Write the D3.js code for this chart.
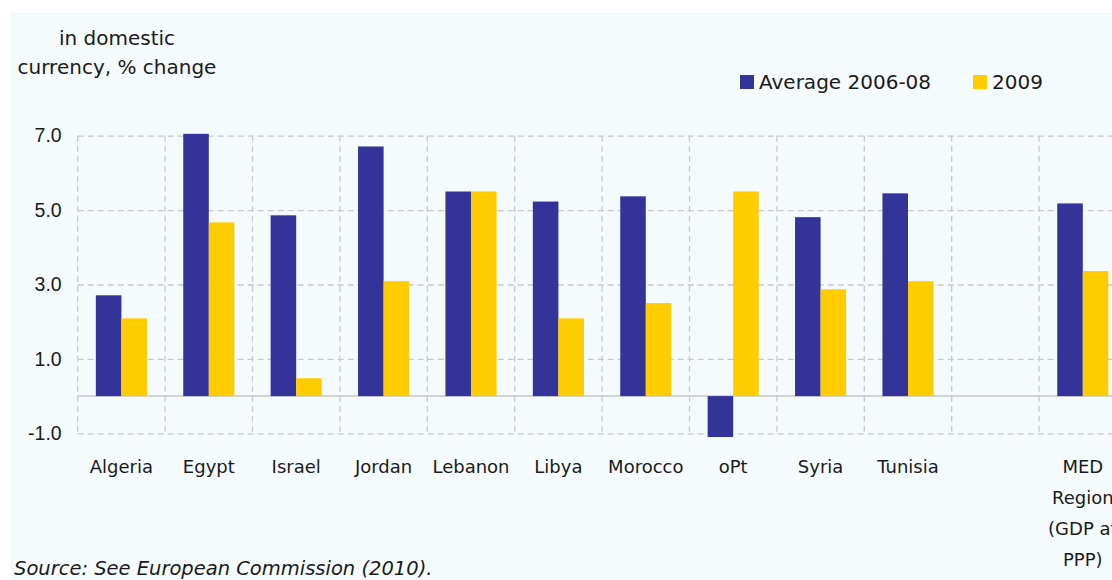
<!DOCTYPE html>
<html>
<head>
<meta charset="utf-8">
<script src="https://cdn.jsdelivr.net/npm/d3@7"></script>
<style>
  body { margin: 0; background: #fff; }
  svg { display: block; font-family: "Century Gothic", "URW Gothic", "DejaVu Sans", sans-serif; }
  .grid line { stroke: #c9c9c9; stroke-dasharray: 6,4; stroke-width: 1.3; }
  .grid path { display: none; }
  .tick text { fill: #1a1a1a; }
</style>
</head>
<body>
<svg width="1112" height="580"></svg>
<script>
// categories and series values
var categories = ['Algeria', 'Egypt', 'Israel', 'Jordan', 'Lebanon', 'Libya', 'Morocco', 'oPt', 'Syria', 'Tunisia', '', 'MED Region (GDP at PPP)'];
var categoryLines = [['Algeria'], ['Egypt'], ['Israel'], ['Jordan'], ['Lebanon'], ['Libya'], ['Morocco'], ['oPt'], ['Syria'], ['Tunisia'], [], ['MED', 'Region', '(GDP at', 'PPP)']];
var avg0608 = [2.71, 7.05, 4.86, 6.71, 5.5, 5.23, 5.37, -1.1, 4.81, 5.45, null, 5.18];
var y2009 = [2.09, 4.67, 0.48, 3.09, 5.5, 2.09, 2.5, 5.5, 2.87, 3.09, null, 3.36];
var seriesNames = ['Average 2006-08', '2009'];
var seriesColors = ['#333399', '#ffcc00'];
var yTicks = [-1, 1, 3, 5, 7];

var svg = d3.select('svg');

// panel background
svg.append('rect')
  .attr('x', 10).attr('y', 12)
  .attr('width', 1102).attr('height', 568)
  .attr('fill', '#f5fafd');

var left = 77.7, step = 87.4;
var x = d3.scaleBand()
  .domain(categories)
  .range([left, left + step * categories.length]);

var x1 = d3.scaleBand()
  .domain(seriesNames)
  .range([0, x.bandwidth()])
  .paddingOuter(0.71);

var y = d3.scaleLinear().domain([-1, 7]).range([433.3, 135.7]);

// horizontal grid + tick labels
svg.append('g')
  .attr('class', 'grid')
  .attr('transform', 'translate(' + left + ',0)')
  .call(d3.axisLeft(y)
    .tickValues(yTicks)
    .tickFormat(d => d.toFixed(1))
    .tickSize(-(1112 - left))
    .tickPadding(16))
  .selectAll('text')
    .attr('font-size', 19.5);

// vertical grid lines
svg.append('g')
  .attr('class', 'grid')
  .selectAll('line')
  .data(categories.map((c, i) => left + step * i).concat([left + step * categories.length]))
  .enter().append('line')
    .attr('x1', d => d).attr('x2', d => d)
    .attr('y1', y(7)).attr('y2', y(-1));

// zero line
svg.append('line')
  .attr('x1', left).attr('x2', 1112)
  .attr('y1', y(0)).attr('y2', y(0))
  .attr('stroke', '#c4c4c4').attr('stroke-width', 1.5);

// bars
var rows = categories.map((c, i) => ({cat: c, vals: [avg0608[i], y2009[i]]}));
var groups = svg.append('g').selectAll('g')
  .data(rows)
  .enter().append('g')
    .attr('transform', d => 'translate(' + x(d.cat) + ',0)');

groups.selectAll('rect')
  .data(d => d.vals.map((v, j) => ({name: seriesNames[j], v: v, j: j})).filter(e => e.v != null))
  .enter().append('rect')
    .attr('x', d => x1(d.name))
    .attr('width', x1.bandwidth())
    .attr('y', d => y(Math.max(0, d.v)))
    .attr('height', d => Math.abs(y(d.v) - y(0)))
    .attr('fill', d => seriesColors[d.j]);

// category labels
var labels = svg.append('g').selectAll('text')
  .data(categories)
  .enter().append('text')
    .attr('x', d => x(d) + x.bandwidth() / 2)
    .attr('y', 473)
    .attr('text-anchor', 'middle')
    .attr('font-size', 18)
    .attr('fill', '#1a1a1a');
labels.each(function(d, i) {
  d3.select(this).selectAll('tspan')
    .data(categoryLines[i])
    .enter().append('tspan')
      .attr('x', x(d) + x.bandwidth() / 2)
      .attr('dy', (t, k) => k === 0 ? 0 : 31)
      .text(t => t);
});

// axis title
svg.append('text')
  .attr('x', 117).attr('y', 45)
  .attr('text-anchor', 'middle')
  .attr('font-size', 20).attr('fill', '#1a1a1a')
  .text('in domestic');
svg.append('text')
  .attr('x', 117).attr('y', 74)
  .attr('text-anchor', 'middle')
  .attr('font-size', 20).attr('fill', '#1a1a1a')
  .text('currency, % change');

// legend
var legendX = [740, 973];
var legend = svg.append('g').selectAll('g')
  .data(seriesNames)
  .enter().append('g')
    .attr('transform', (d, i) => 'translate(' + legendX[i] + ',75)');
legend.append('rect')
  .attr('width', 14).attr('height', 14)
  .attr('fill', (d, i) => seriesColors[i]);
legend.append('text')
  .attr('x', 19).attr('y', 14)
  .attr('font-size', 20).attr('fill', '#1a1a1a')
  .text(d => d);

// source note
svg.append('text')
  .attr('x', 14).attr('y', 575)
  .attr('font-size', 19.5).attr('font-style', 'italic')
  .attr('fill', '#1a1a1a')
  .text('Source: See European Commission (2010).');
</script>
</body>
</html>
